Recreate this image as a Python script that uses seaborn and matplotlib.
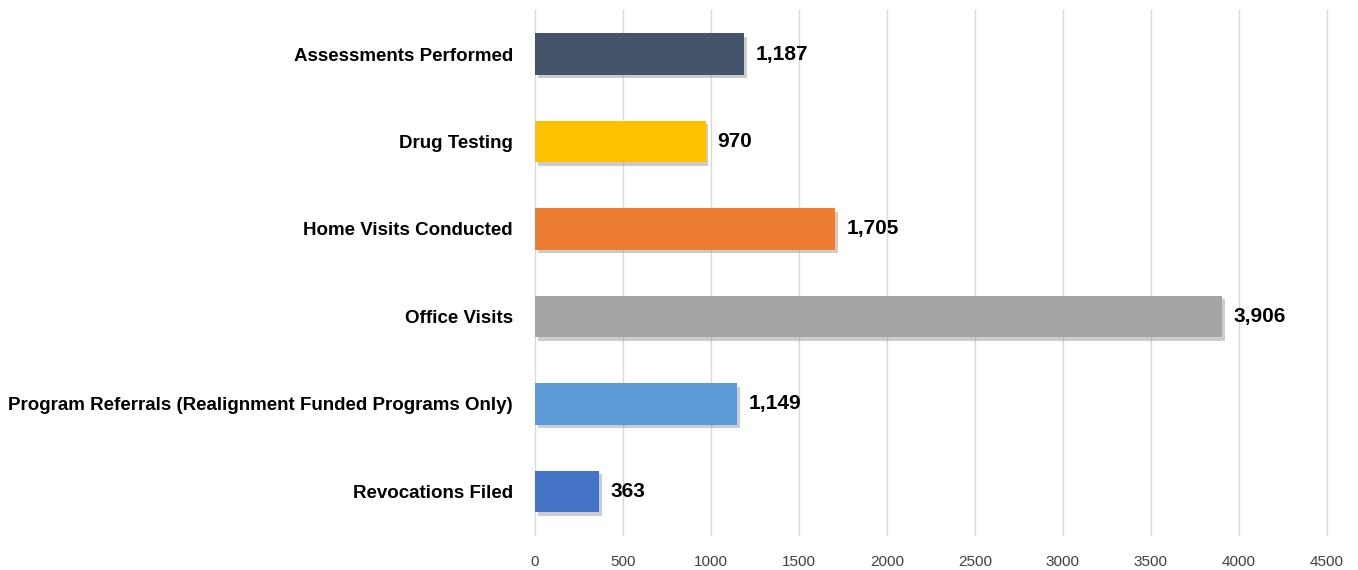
import matplotlib
matplotlib.use('Agg')
import matplotlib.pyplot as plt
import matplotlib.patheffects as pe
import seaborn as sns

# Chart data
categories = ['Assessments Performed', 'Drug Testing', 'Home Visits Conducted',
              'Office Visits', 'Program Referrals (Realignment Funded Programs Only)',
              'Revocations Filed']
counts = [1187, 970, 1705, 3906, 1149, 363]
colors = ['#44546A', '#FFC000', '#ED7D31', '#A5A5A5', '#5B9BD5', '#4472C4']
x_ticks = [0, 500, 1000, 1500, 2000, 2500, 3000, 3500, 4000, 4500]

sns.set_style('white')
plt.rcParams['font.family'] = ['Liberation Sans Narrow', 'Liberation Sans', 'DejaVu Sans']

fig = plt.figure(figsize=(13.58, 5.70), dpi=100)
ax = fig.add_axes([0.394, 0.061, 0.583, 0.921])

sns.barplot(x=counts, y=categories, hue=categories, palette=colors, saturation=1,
            legend=False, width=0.47, orient='h', linewidth=0, edgecolor='none', ax=ax)

# soft shadow under each bar
for p in ax.patches:
    p.set_path_effects([pe.SimplePatchShadow(offset=(2, -2.5), shadow_rgbFace='#808080',
                                             alpha=0.4), pe.Normal()])

for i, v in enumerate(counts):
    ax.text(v + 65, i, f'{v:,}', va='center', ha='left', fontsize=15,
            fontweight='bold', color='black')

ax.set_xlim(0, 4500)
ax.set_ylim(5.5, -0.5)
ax.set_xticks(x_ticks)
ax.set_xticklabels([str(t) for t in x_ticks], fontsize=11, color='#404040')
ax.grid(axis='x', color='#D9D9D9', linewidth=1)
for gl in ax.get_xgridlines():
    gl.set_clip_on(False)
ax.set_axisbelow(True)
ax.tick_params(axis='y', labelsize=13.5, length=0, pad=16)
ax.tick_params(axis='x', length=0, pad=14)
for lbl in ax.get_yticklabels():
    lbl.set_fontweight('bold')
    lbl.set_color('black')
sns.despine(ax=ax, left=True, bottom=True)
ax.set_xlabel('')
ax.set_ylabel('')

plt.savefig('out.png', dpi=100)
plt.close()
